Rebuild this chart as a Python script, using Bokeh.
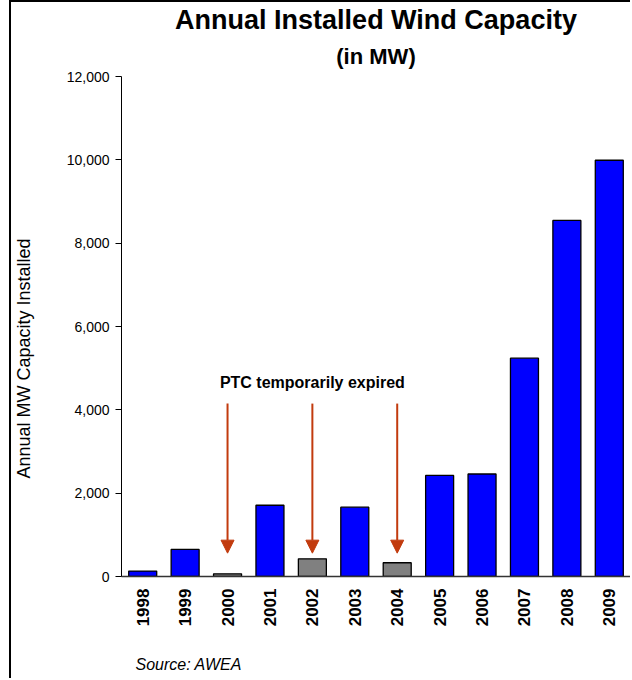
from math import pi
from bokeh.plotting import figure
from bokeh.models import (ColumnDataSource, Title, Arrow, NormalHead,
                          NumeralTickFormatter, FixedTicker)
from bokeh.core.properties import value
from bokeh.embed import file_html
from bokeh.resources import INLINE

# ---- data ----
years = ["1998", "1999", "2000", "2001", "2002", "2003",
         "2004", "2005", "2006", "2007", "2008", "2009"]
capacity_mw = [130, 650, 65, 1710, 425, 1665, 330, 2425, 2460, 5240, 8545, 9990]
ptc_expired = ["2000", "2002", "2004"]
y_ticks = [0, 2000, 4000, 6000, 8000, 10000, 12000]
arrow_top = 4150
arrow_tip = 560
note_y = 4650

BLUE = "#0000FF"
GREY = "#808080"
RED = "#C23B0E"
FONT = "Liberation Sans"

colors = [GREY if y in ptc_expired else BLUE for y in years]
src = ColumnDataSource(dict(year=years, mw=capacity_mw, color=colors))

p = figure(x_range=years, y_range=(0, 12000), width=621, height=678,
           output_backend="svg", toolbar_location=None,
           min_border_left=109, min_border_right=2, min_border_top=74,
           min_border_bottom=104)
p.x_range.range_padding = 0
p.outline_line_color = None
p.grid.grid_line_color = None
p.background_fill_color = "white"
p.border_fill_color = "white"

p.vbar(x="year", top="mw", width=0.66, source=src, fill_color="color",
       line_color="black", line_width=1.3)

# axes
p.yaxis.ticker = FixedTicker(ticks=y_ticks)
p.yaxis.formatter = NumeralTickFormatter(format="0,0")
p.yaxis.minor_tick_line_color = None
p.yaxis.major_tick_out = 6
p.yaxis.major_tick_in = 0
p.yaxis.axis_line_color = "black"
p.yaxis.major_tick_line_color = "black"
p.yaxis.major_label_text_font = FONT
p.yaxis.major_label_text_font_size = "14px"
p.yaxis.major_label_text_color = "black"
p.yaxis.major_label_standoff = 6

p.xaxis.major_tick_line_color = None
p.xaxis.minor_tick_line_color = None
p.xaxis.axis_line_color = "#333333"
p.xaxis.axis_line_width = 1.5
p.xaxis.major_label_orientation = pi / 2
p.xaxis.major_label_text_font = FONT
p.xaxis.major_label_text_font_style = "bold"
p.xaxis.major_label_text_font_size = "17px"
p.xaxis.major_label_text_color = "black"
p.xaxis.major_label_standoff = 6

# arrows for PTC expiry
asrc = ColumnDataSource(dict(x=ptc_expired, y0=[arrow_top] * 3, y1=[arrow_tip] * 3))
p.add_layout(Arrow(x_start="x", y_start="y0", x_end="x", y_end="y1", source=asrc,
                   line_color=RED, line_width=2,
                   end=NormalHead(size=13, fill_color=RED, line_color=RED)))

p.text(x=["2002"], y=[note_y], text=["PTC temporarily expired"],
       text_font=value(FONT), text_font_style="bold", text_font_size="16px",
       text_align="center", text_baseline="middle", text_color="black")

# titles (first added = closest to plot)
p.add_layout(Title(text="(in MW)", align="center", text_font=FONT,
                   text_font_style="bold", text_font_size="22px",
                   text_color="black", standoff=15), "above")
p.add_layout(Title(text="Annual Installed Wind Capacity", align="center",
                   text_font=FONT, text_font_style="bold", text_font_size="27px",
                   text_color="black", standoff=0), "above")

# spacer between the y axis and its label, then the y axis label itself
p.add_layout(Title(text=" ", text_font=FONT, text_font_size="16px",
                   standoff=11), "left")
p.add_layout(Title(text="Annual MW Capacity Installed", align="left", offset=98,
                   text_font=FONT, text_font_style="normal", text_font_size="18px",
                   text_color="black", standoff=0), "left")

# spacer below the x axis, then the source note
p.add_layout(Title(text=" ", text_font=FONT, text_font_size="15px",
                   standoff=5), "below")
p.add_layout(Title(text="Source:  AWEA", align="left", offset=14,
                   text_font=FONT, text_font_style="italic", text_font_size="16px",
                   text_color="black", standoff=0), "below")

p.styles = {"border-top": "2px solid black", "border-left": "2px solid black",
            "margin-left": "9px"}

open("out.html", "w").write(file_html(p, INLINE))
